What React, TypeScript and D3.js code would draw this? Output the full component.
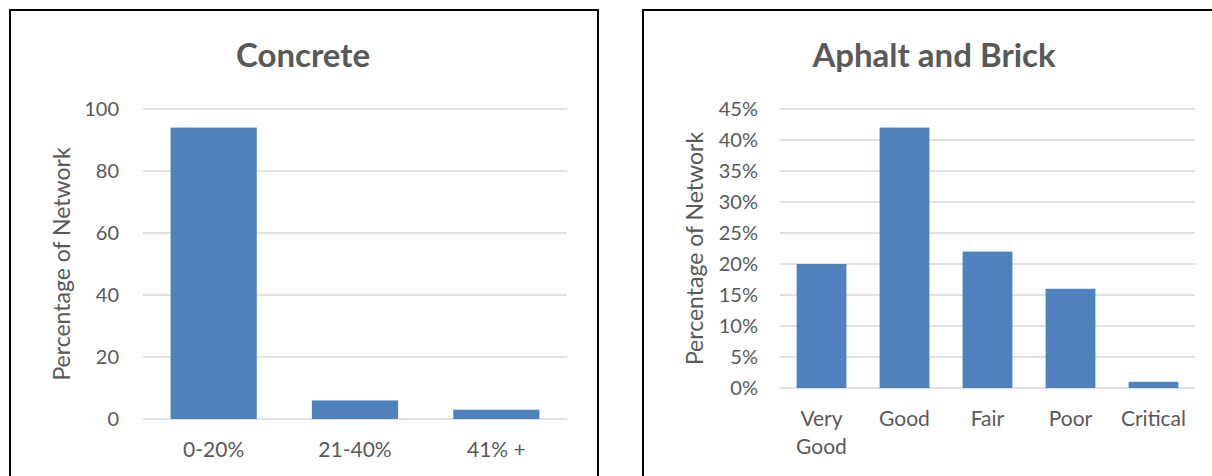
import React from "react";
import * as d3 from "d3";

const concreteCategories = ["0-20%", "21-40%", "41% +"];
const concreteValues = [94, 6, 3];
const concreteTicks = [0, 20, 40, 60, 80, 100];

const asphaltCategories = ["Very Good", "Good", "Fair", "Poor", "Critical"];
const asphaltValues = [0.2, 0.42, 0.22, 0.16, 0.01];
const asphaltTicks = [0, 0.05, 0.1, 0.15, 0.2, 0.25, 0.3, 0.35, 0.4, 0.45];

const FONT = "Lato, 'Open Sans', sans-serif";
const TEXT = "#595959";
const BAR = "#4f81bd";
const GRID = "#d9d9d9";

type PanelProps = {
  title: string;
  titleX: number;
  categories: string[];
  values: number[];
  ticks: number[];
  domainMax: number;
  fmt: (v: number) => string;
  x0: number;
  x1: number;
  y0: number;
  y1: number;
  padding: number;
  labelX: number;
  tickX: number;
};

function Panel(p: PanelProps) {
  const x = d3.scaleBand<string>().domain(p.categories).range([p.x0, p.x1]).paddingInner(p.padding).paddingOuter(p.padding / 2);
  const y = d3.scaleLinear().domain([0, p.domainMax]).range([p.y1, p.y0]);
  const midY = (p.y0 + p.y1) / 2;
  return (
    <g>
      <text x={p.titleX} y={67} textAnchor="middle" fontFamily={FONT} fontWeight="bold" fontSize={33} fill={TEXT}>
        {p.title}
      </text>
      {p.ticks.map((t) => (
        <g key={t}>
          <line x1={p.x0} x2={p.x1} y1={y(t)} y2={y(t)} stroke={GRID} strokeWidth={1.5} />
          <text x={p.tickX} y={y(t)} dy="0.35em" textAnchor="end" fontFamily={FONT} fontSize={20} fill={TEXT}>
            {p.fmt(t)}
          </text>
        </g>
      ))}
      {p.categories.map((c, i) => (
        <rect key={c} x={x(c)} y={y(p.values[i])} width={x.bandwidth()} height={p.y1 - y(p.values[i])} fill={BAR} />
      ))}
      {p.categories.map((c) => {
        const words = c === "Very Good" ? ["Very", "Good"] : [c];
        return (
          <text key={c} x={(x(c) as number) + x.bandwidth() / 2} y={p.y1 + 38} textAnchor="middle" fontFamily={FONT} fontSize={21} fill={TEXT}>
            {words.map((w, k) => (
              <tspan key={k} x={(x(c) as number) + x.bandwidth() / 2} dy={k === 0 ? 0 : 28}>
                {w}
              </tspan>
            ))}
          </text>
        );
      })}
      <text
        transform={`translate(${p.labelX},${midY}) rotate(-90)`}
        textAnchor="middle"
        dy="0.35em"
        fontFamily={FONT}
        fontSize={23}
        fill={TEXT}
      >
        Percentage of Network
      </text>
    </g>
  );
}

export default function App() {
  return (
    <svg width={1212} height={476} style={{ position: "absolute", left: 0, top: 0, background: "#fff" }}>
      <rect x={0} y={0} width={1212} height={476} fill="#fff" />
      <rect x={10} y={10} width={588} height={480} fill="#fff" stroke="#000" strokeWidth={2} />
      <rect x={643} y={10} width={600} height={480} fill="#fff" stroke="#000" strokeWidth={2} />
      <Panel
        title="Concrete"
        titleX={303}
        categories={concreteCategories}
        values={concreteValues}
        ticks={concreteTicks}
        domainMax={100}
        fmt={(v) => String(v)}
        x0={143}
        x1={567}
        y0={109}
        y1={419}
        padding={0.39}
        labelX={62}
        tickX={119}
      />
      <Panel
        title="Aphalt and Brick"
        titleX={934}
        categories={asphaltCategories}
        values={asphaltValues}
        ticks={asphaltTicks}
        domainMax={0.45}
        fmt={(v) => `${Math.round(v * 100)}%`}
        x0={780}
        x1={1195}
        y0={109}
        y1={388}
        padding={0.4}
        labelX={695}
        tickX={758}
      />
    </svg>
  );
}
